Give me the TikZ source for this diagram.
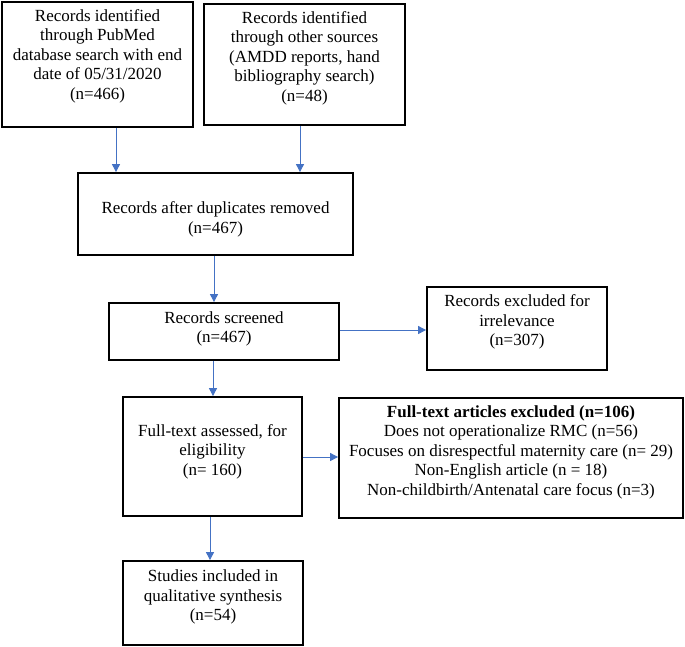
\documentclass[tikz,border=0pt]{standalone}
\usepackage{fontspec}
\setmainfont{Liberation Serif}
\usetikzlibrary{arrows.meta}
\definecolor{arrblue}{HTML}{4472C4}
\tikzset{
  box/.style={draw=black, line width=1.8pt, rectangle, inner sep=0pt},
  txt/.style={align=center, inner sep=0pt, font=\fontsize{17}{19.5}\selectfont},
  arr/.style={draw=arrblue, line width=0.9pt, -{Triangle[length=8pt,width=8pt]}}
}
\begin{document}
\begin{tikzpicture}[x=1pt,y=-1pt]
\useasboundingbox (0,0) rectangle (685,646);
% boxes
\node[box, minimum width=191pt, minimum height=125pt] (b1) at (97.5,64.5) {};
\node[box, minimum width=201pt, minimum height=121pt] (b2) at (304.5,64.5) {};
\node[box, minimum width=275pt, minimum height=82pt] (b3) at (215.5,214) {};
\node[box, minimum width=230pt, minimum height=57pt] (b4) at (224,331.5) {};
\node[box, minimum width=180pt, minimum height=83pt] (b5) at (517,328.5) {};
\node[box, minimum width=179pt, minimum height=119pt] (b6) at (212.5,456.5) {};
\node[box, minimum width=344pt, minimum height=120pt] (b7) at (511,458) {};
\node[box, minimum width=180pt, minimum height=84pt] (b8) at (213,603) {};
% texts
\node[txt] (t1) at ([yshift=8.5pt]b1.center) {Records identified\\through PubMed\\database search with end\\date of 05/31/2020\\(n=466)};
\node[txt] (t2) at ([yshift=6.5pt]b2.center) {Records identified\\through other sources\\(AMDD reports, hand\\bibliography search)\\(n=48)};
\node[txt] (t3) at ([yshift=-5.5pt]b3.center) {Records after duplicates removed\\(n=467)};
\node[txt] (t4) at ([yshift=2.5pt]b4.center) {Records screened\\(n=467)};
\node[txt] (t5) at ([yshift=6.5pt]b5.center) {Records excluded for\\irrelevance\\(n=307)};
\node[txt] (t6) at ([yshift=5pt]b6.center) {Full-text assessed, for\\eligibility\\(n= 160)};
\node[txt] (t7) at ([yshift=6pt]b7.center) {\textbf{Full-text articles excluded (n=106)}\\Does not operationalize RMC (n=56)\\Focuses on disrespectful maternity care (n= 29)\\Non-English article (n = 18)\\Non-childbirth/Antenatal care focus (n=3)};
\node[txt] (t8) at ([yshift=6pt]b8.center) {Studies included in\\qualitative synthesis\\(n=54)};
% connectors
\draw[arr] ([xshift=18.5pt]b1.south) coordinate (s1) -- (s1 |- b3.north);
\draw[arr] ([xshift=-4.5pt]b2.south) coordinate (s2) -- (s2 |- b3.north);
\draw[arr] ([xshift=-1.5pt]b3.south) coordinate (s3) -- (s3 |- b4.north);
\draw[arr] ([yshift=1.5pt]b4.east) coordinate (s4) -- (s4 -| b5.west);
\draw[arr] ([xshift=-11pt]b4.south) coordinate (s5) -- (s5 |- b6.north);
\draw[arr] ([yshift=-0.5pt]b6.east) coordinate (s6) -- (s6 -| b7.west);
\draw[arr] ([xshift=-2.5pt]b6.south) coordinate (s7) -- (s7 |- b8.north);
\end{tikzpicture}
\end{document}
